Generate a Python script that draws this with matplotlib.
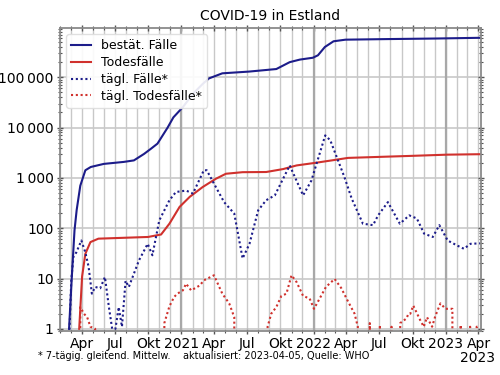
import matplotlib
matplotlib.use("Agg")
import matplotlib.pyplot as plt
import matplotlib.dates as mdates
import matplotlib.ticker as mticker
import numpy as np
import pandas as pd

# ---------------- data ----------------
cases_dates = ["2020-02-26", "2020-03-04", "2020-03-12", "2020-03-18", "2020-03-28",
               "2020-04-11", "2020-04-26", "2020-06-01", "2020-07-26", "2020-08-23",
               "2020-09-20", "2020-10-09", "2020-10-27", "2020-11-24",
               "2020-12-10", "2021-01-05", "2021-02-02", "2021-03-01", "2021-03-18", "2021-04-24",
               "2021-07-07", "2021-09-20", "2021-10-27", "2021-11-24", "2021-12-30",
               "2022-01-13", "2022-02-01", "2022-02-25", "2022-03-30", "2022-07-21",
               "2022-12-01", "2023-04-05"]
cases_total = [1, 9, 90, 230, 700,
               1420, 1650, 1900, 2080, 2230,
               3000, 3800, 4800, 10000,
               16000, 25500, 47000, 74000, 95000, 120000,
               130000, 146000, 200000, 225000, 245000,
               274000, 400000, 520000, 560000, 575000,
               590000, 610000]

deaths_dates = ["2020-03-25", "2020-04-02", "2020-04-11", "2020-04-25", "2020-05-17",
                "2020-10-01", "2020-11-06", "2020-11-29", "2020-12-27", "2021-01-24",
                "2021-03-01", "2021-04-06", "2021-05-04", "2021-06-19", "2021-08-23",
                "2021-10-09", "2021-11-15", "2022-01-05", "2022-02-20", "2022-04-06",
                "2022-07-03", "2022-10-03", "2023-01-05", "2023-04-05"]
deaths_total = [1, 11, 31, 53, 62,
                67, 75, 123, 265, 420,
                660, 960, 1210, 1300, 1310,
                1500, 1770, 1990, 2230, 2500,
                2620, 2750, 2900, 2960]

daily_cases_dates = ["2020-02-26", "2020-03-03", "2020-03-09", "2020-03-17", "2020-03-31",
                     "2020-04-11", "2020-04-20", "2020-04-29", "2020-05-08", "2020-05-22",
                     "2020-06-04", "2020-06-15", "2020-06-24", "2020-07-03", "2020-07-12",
                     "2020-07-21", "2020-07-31", "2020-08-09", "2020-09-06", "2020-09-30",
                     "2020-10-13", "2020-11-01", "2020-11-29", "2020-12-17", "2021-01-14",
                     "2021-02-02", "2021-03-04", "2021-03-12", "2021-04-01", "2021-04-29",
                     "2021-05-27", "2021-06-19", "2021-07-08", "2021-08-01", "2021-08-23",
                     "2021-09-16", "2021-10-27", "2021-12-03", "2021-12-26", "2022-02-02",
                     "2022-02-16", "2022-03-27", "2022-04-16", "2022-05-17", "2022-06-14",
                     "2022-06-28", "2022-07-25", "2022-08-27", "2022-09-22", "2022-10-13",
                     "2022-11-02", "2022-11-26", "2022-12-14", "2023-01-06", "2023-02-02",
                     "2023-02-20", "2023-03-10", "2023-04-05"]
daily_cases = [0.5, 9, 27, 33, 57,
               33, 17, 5, 6.8, 6.4,
               10.7, 2.7, 1, 1, 2.7,
               1.1, 9, 6.8, 23, 49,
               29, 143, 360, 525, 560,
               490, 1420, 1420, 770, 330,
               195, 25, 49, 227, 360,
               450, 1770, 450, 890, 7000,
               5600, 1040, 390, 123, 115,
               180, 330, 123, 180, 156,
               78, 67, 115, 57, 45,
               39, 49, 50]

daily_deaths_dates = ["2020-03-23", "2020-03-28", "2020-04-07", "2020-04-16", "2020-04-25",
                      "2020-05-08", "2020-05-12", "2020-11-07", "2020-11-15", "2020-11-29",
                      "2020-12-12", "2020-12-21", "2021-01-05", "2021-01-14", "2021-01-28",
                      "2021-02-21", "2021-03-04", "2021-04-01", "2021-04-24", "2021-05-13",
                      "2021-05-27", "2021-06-03", "2021-08-21", "2021-08-27", "2021-09-06",
                      "2021-09-20", "2021-10-04", "2021-10-18", "2021-11-01", "2021-11-15",
                      "2021-12-03", "2021-12-21", "2022-01-02", "2022-01-16", "2022-02-04",
                      "2022-02-28", "2022-03-18", "2022-04-06", "2022-04-24", "2022-05-03",
                      "2022-05-08", "2022-06-01", "2022-06-05", "2022-06-12", "2022-06-28",
                      "2022-07-03", "2022-07-10", "2022-07-30", "2022-08-04", "2022-08-12",
                      "2022-08-24", "2022-08-28", "2022-09-14", "2022-09-20", "2022-09-25",
                      "2022-10-03", "2022-10-22", "2022-11-01", "2022-11-10", "2022-11-24",
                      "2022-12-03", "2022-12-17", "2022-12-31", "2023-01-19", "2023-01-23",
                      "2023-02-06", "2023-02-11", "2023-02-18", "2023-03-02", "2023-03-09",
                      "2023-03-16", "2023-03-27", "2023-04-05"]
daily_deaths = [0, 2.7, 2.0, 1.7, 1.1,
                1.0, 0, 0, 1.3, 2.8,
                4.3, 5.0, 5.8, 7.9, 5.8,
                7.3, 9.2, 11.6, 5.0, 3.2,
                1.7, 0, 0, 1.1, 2.0,
                2.7, 4.5, 5.0, 11.6, 8.5,
                4.5, 4.0, 2.5, 3.8, 6.8,
                9.8, 6.5, 3.5, 2.0, 1.1,
                0, 0, 1.3, 0, 0,
                1.2, 0, 0, 1.1, 0,
                0, 1.3, 1.6, 2.0, 2.0,
                2.9, 1.5, 1.1, 1.7, 1.1,
                1.8, 3.2, 2.5, 2.5, 0,
                0, 1.2, 0, 0, 1.1,
                0, 1.1, 1.1]

month_names = {4: "Apr", 7: "Jul", 10: "Okt"}

BLUE = "#1c1c8a"
RED = "#d0312d"

fig = plt.figure(figsize=(5, 3.75), dpi=100)
ax = fig.add_axes([0.12, 0.117, 0.842, 0.808])

ax.plot(pd.to_datetime(cases_dates), cases_total, color=BLUE, lw=1.5, label="bestät. Fälle")
ax.plot(pd.to_datetime(deaths_dates), deaths_total, color=RED, lw=1.5, label="Todesfälle")
ax.plot(pd.to_datetime(daily_cases_dates), daily_cases, color=BLUE, lw=1.5, ls=(0, (1, 1.3)),
        label="tägl. Fälle*")
ax.plot(pd.to_datetime(daily_deaths_dates), daily_deaths, color=RED, lw=1.5, ls=(0, (1, 1.3)),
        label="tägl. Todesfälle*")

ax.set_yscale("log", nonpositive="clip")
ax.set_ylim(0.9, 9.5e5)
xmin, xmax = pd.Timestamp("2020-02-01"), pd.Timestamp("2023-04-08")
ax.set_xlim(xmin, xmax)

def yfmt(v, pos):
    return f"{int(round(v)):,}".replace(",", "\u2009")
ax.yaxis.set_major_locator(mticker.LogLocator(base=10, numticks=10))
ax.yaxis.set_major_formatter(mticker.FuncFormatter(yfmt))
ax.yaxis.set_minor_locator(mticker.LogLocator(base=10, subs=np.arange(2, 10), numticks=20))
ax.yaxis.set_minor_formatter(mticker.NullFormatter())

major_ticks = [t for t in pd.date_range("2020-04-01", "2023-04-01", freq="QS-JAN")]
ax.xaxis.set_major_locator(mticker.FixedLocator(mdates.date2num(major_ticks)))
ax.xaxis.set_minor_locator(mdates.MonthLocator())

def xfmt(x, pos):
    d = mdates.num2date(x)
    if d.month == 1:
        return str(d.year)
    return month_names[d.month]
ax.xaxis.set_major_formatter(mticker.FuncFormatter(xfmt))

ax.grid(True, which="both", axis="x", color="#c8c8c8", lw=1.0)
ax.grid(True, which="major", axis="y", color="#c8c8c8", lw=1.2)
for yr in [2021, 2022, 2023]:
    ax.axvline(pd.Timestamp(f"{yr}-01-01"), color="#a8a8a8", lw=1.6, zorder=0.9)
ax.set_axisbelow(True)

for s in ax.spines.values():
    s.set_color("#8a8a8a")
    s.set_linewidth(1.3)

ax.tick_params(which="both", top=True, right=True, direction="inout", color="#555555")
ax.tick_params(which="major", length=5, width=1, labelsize=10, pad=2)
ax.tick_params(which="minor", length=3, width=0.8)

ax.set_title("COVID-19 in Estland", fontsize=10, pad=6)

leg = ax.legend(loc="upper left", fontsize=9, frameon=True, fancybox=True,
                handlelength=1.6, borderpad=0.4, labelspacing=0.3,
                bbox_to_anchor=(0.0, 1.0))
leg.get_frame().set_edgecolor("#dddddd")
leg.get_frame().set_alpha(0.9)

fig.text(0.075, 0.05, "* 7-tägig. gleitend. Mittelw.    aktualisiert: 2023-04-05, Quelle: WHO",
         fontsize=7, ha="left", va="center")
fig.text(0.955, 0.045, "2023", fontsize=10, ha="center", va="center")

fig.savefig("out.png", dpi=100)
